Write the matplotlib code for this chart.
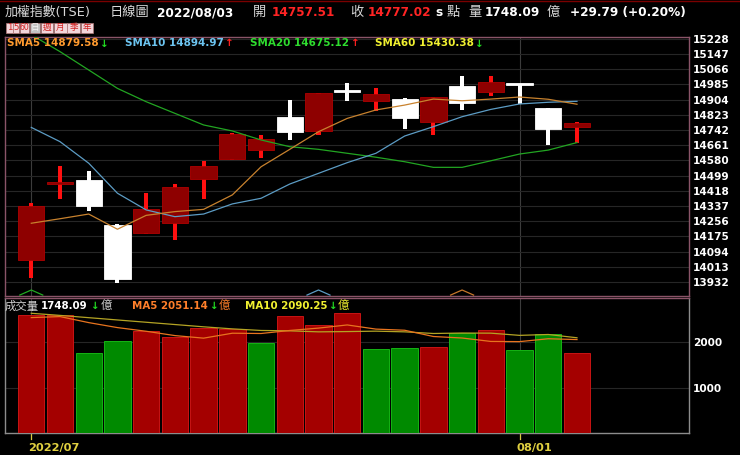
import matplotlib
matplotlib.use("Agg")
import matplotlib.pyplot as plt
from matplotlib.patches import Rectangle

plt.rcParams['font.family'] = ['DejaVu Sans', 'Noto Sans CJK TC']

# ---------------- data ----------------
opens = [14049, 14455, 14476, 14236, 14192, 14248, 14481, 14586, 14635, 14810,
         14738, 14950, 14898, 14909, 14786, 14976, 14944, 14984, 14857, 14757.51]
highs = [14355, 14550, 14524, 14240, 14405, 14453, 14578, 14725, 14717, 14902,
         14940, 14991, 14966, 14912, 14918, 15030, 15031, 14990, 14860, 14785]
lows = [13952, 14373, 14310, 13928, 14190, 14156, 14376, 14583, 14594, 14689,
        14714, 14898, 14845, 14746, 14714, 14849, 14923, 14882, 14662, 14671]
closes = [14337, 14461, 14337, 13946, 14323, 14437, 14550, 14721, 14692, 14731,
          14938, 14944, 14934, 14804, 14916, 14887, 14998, 14981, 14747, 14777.02]

sma5 = [14245, 14269, 14294, 14213, 14287, 14307, 14319, 14396, 14546, 14639,
        14733, 14804, 14849, 14875, 14907, 14898, 14907, 14918, 14906, 14879.58]
sma10 = [14756, 14680, 14565, 14405, 14316, 14280, 14294, 14348, 14378, 14454,
         14511, 14568, 14618, 14710, 14760, 14813, 14852, 14881, 14890, 14894.97]
sma20 = [15250, 15160, 15062, 14964, 14893, 14831, 14769, 14737, 14689, 14653,
         14639, 14618, 14597, 14573, 14543, 14543, 14578, 14614, 14635, 14675.12]

volumes = [2582, 2582, 1751, 2013, 2239, 2107, 2298, 2291, 1985, 2567,
           2370, 2641, 1838, 1860, 1882, 2203, 2269, 1816, 2173, 1748.09]
vol_up = [1, 1, 0, 0, 1, 1, 1, 1, 0, 1, 1, 1, 0, 0, 1, 0, 1, 0, 0, 1]
vol_ma5 = [2532, 2554, 2422, 2313, 2233, 2138, 2082, 2190, 2184, 2250,
           2302, 2371, 2280, 2255, 2118, 2085, 2010, 2006, 2069, 2051.14]
vol_ma10 = [2626, 2580, 2530, 2480, 2430, 2380, 2330, 2285, 2250, 2242,
            2220, 2226, 2235, 2220, 2184, 2194, 2191, 2143, 2162, 2090.25]

price_ticks = [13932, 14013, 14094, 14175, 14256, 14337, 14418, 14499, 14580,
               14661, 14742, 14823, 14904, 14985, 15066, 15147, 15228]
vol_ticks = [1000, 2000]
date_labels = ["2022/07", "08/01"]
date_idx = [0, 17]

caret_idx = [0, 10, 15]
caret_colors = ['#22aa22', '#5c9cc4', '#c8782a']

header_date = "2022/08/03"
open_val, close_val = "14757.51", "14777.02"
vol_val = "1748.09"
change_txt = "+29.79 (+0.20%)"
sma_labels = [("SMA5 14879.58", '#ff9a2e', '↓'), ("SMA10 14894.97", '#6cc4f0', '↑'),
              ("SMA20 14675.12", '#2edc2e', '↑'), ("SMA60 15430.38", '#f0f030', '↓')]
vol_labels = [("MA5 2051.14", '#ff7f2a'), ("MA10 2090.25", '#f0f030')]
buttons = ["1", "5", "60", "日", "週", "月", "季", "年"]

# ---------------- figure ----------------
W, H = 740, 455
fig = plt.figure(figsize=(W / 100, H / 100), dpi=100, facecolor='black')
renderer = fig.canvas.get_renderer()

def fx(px):
    return px / W

def fy(py):
    return 1 - py / H

ax1 = fig.add_axes([fx(5), fy(296), fx(689) - fx(5), fy(37) - fy(296)])
ax2 = fig.add_axes([fx(5), fy(433.3), fx(689) - fx(5), fy(298.3) - fy(433.3)])

n = len(opens)
xs = list(range(n))
XL = (-0.915, 22.9)

for ax in (ax1, ax2):
    ax.set_facecolor('black')
    ax.set_xlim(*XL)
    ax.set_xticks([])
    ax.yaxis.tick_right()
    ax.tick_params(axis='y', length=0, pad=3, labelcolor='white', labelsize=7.6)
    for d in date_idx:
        ax.axvline(d, color='#3c3c3c', lw=0.8, zorder=0)

# price panel
ax1.set_ylim(13857, 15238)
ax1.set_yticks(price_ticks)
ax1.set_yticklabels([str(t) for t in price_ticks], fontweight='bold')
for t in price_ticks:
    ax1.axhline(t, color='#262626', lw=0.8, zorder=0)
for s in ax1.spines.values():
    s.set_color('#8a5468')
    s.set_linewidth(1.0)

unit = (15238 - 13857) / 259.0  # data units per pixel
for i in xs:
    o, h, l, c = opens[i], highs[i], lows[i], closes[i]
    up = c >= o
    wick_col = '#ff1010' if up else 'white'
    body_col = '#8e0000' if up else 'white'
    edge_col = '#b00000' if up else 'white'
    ax1.bar(i, h - l, bottom=l, width=0.14, color=wick_col, zorder=3)
    bh = max(abs(c - o), 2 * unit)
    ax1.bar(i, bh, bottom=min(o, c), width=0.915, color=body_col,
            edgecolor=edge_col, linewidth=0.6, zorder=4)

ax1.plot(xs, sma20, color='#22a522', lw=0.9, zorder=5)
ax1.plot(xs, sma10, color='#5c9cc4', lw=0.9, zorder=5)
ax1.plot(xs, sma5, color='#c8822e', lw=0.9, zorder=5)

for ci, cc in zip(caret_idx, caret_colors):
    ax1.plot([ci - 0.4, ci, ci + 0.4], [13862, 13889, 13862], color=cc, lw=0.9,
             zorder=5, clip_on=False)

# volume panel
ax2.set_ylim(0, 2954)
ax2.set_yticks(vol_ticks)
ax2.set_yticklabels([str(t) for t in vol_ticks], fontweight='bold')
for t in vol_ticks:
    ax2.axhline(t, color='#262626', lw=0.8, zorder=0)
for k, s in ax2.spines.items():
    s.set_color('#8c8c8c')
    s.set_linewidth(1.0)
ax2.spines['top'].set_color('#8a5468')

for i in xs:
    if vol_up[i]:
        fc, ec = '#a40000', '#c81414'
    else:
        fc, ec = '#008a00', '#14b414'
    ax2.bar(i, volumes[i], width=0.92, color=fc, edgecolor=ec, linewidth=0.7, zorder=3)
ax2.plot(xs, vol_ma10, color='#b4a424', lw=0.9, zorder=5)
ax2.plot(xs, vol_ma5, color='#e8741e', lw=0.9, zorder=5)

# x date labels + small ticks
for d, lab in zip(date_idx, date_labels):
    ax2.plot([d, d], [0, -130], color='#d8c840', lw=0.9, clip_on=False)
    ax2.text(d - 0.1, -330, lab, color='#e0d040', fontsize=8.2, fontweight='bold',
             ha='left', va='center', clip_on=False)

# ---------------- header texts ----------------
def T(x, y, s, color, size=9.0, bold=False):
    t = fig.text(fx(x), fy(y), s, color=color, fontsize=size,
                 fontweight='bold' if bold else 'normal', ha='left', va='center')
    return t

def chain(x, y, parts, gap=1.0):
    """parts: list of (text, color, size, bold). Returns end x in px."""
    for s, col, size, bold in parts:
        t = T(x, y, s, col, size, bold)
        bb = t.get_window_extent(renderer=renderer)
        x = bb.x1 + gap
    return x

hy = 12.5
T(5, hy, "加權指數(TSE)", '#d8d8d8', 9.3)
T(110, hy, "日線圖", '#d8d8d8', 9.5)
T(157, hy, header_date, 'white', 8.7, True)
T(253, hy, "開", '#d8d8d8', 9.5)
T(272, hy, open_val, '#ff2424', 8.7, True)
T(350, hy, "收", '#d8d8d8', 9.5)
T(368, hy, close_val, '#ff2424', 8.7, True)
T(435, hy, "s", 'white', 8.7, True)
T(447, hy, "點", '#d8d8d8', 9.5)
T(468, hy, "量", '#d8d8d8', 9.5)
T(485, hy, vol_val, 'white', 8.7, True)
T(547, hy, "億", '#d8d8d8', 9.5)
T(570, hy, change_txt, 'white', 8.7, True)

# buttons
bx = [(6, 12.6), (13.2, 19.4), (20, 29.4), (30, 40), (40.6, 53.4), (54, 66.6), (67.2, 80), (80.6, 93)]
for (x0, x1), lab in zip(bx, buttons):
    sel = lab == "日"
    fc = '#c4c4c4' if sel else '#f2d6da'
    tc = '#f8f8f8' if sel else '#d02020'
    fig.patches.append(Rectangle((fx(x0), fy(32.5)), fx(x1) - fx(x0), fy(22.5) - fy(32.5),
                                 transform=fig.transFigure, facecolor=fc,
                                 edgecolor='#b07878', linewidth=0.5))
    fig.text(fx((x0 + x1) / 2), fy(27.6), lab, color=tc,
             fontsize=5.6 if len(lab) > 1 else 6.2, ha='center', va='center')

# SMA legend row
sy = 43.5
for (lab, col, arr), x0 in zip(sma_labels, [7, 125, 250, 375]):
    acol = '#22dd22' if arr == '↓' else '#ff2020'
    chain(x0, sy, [(lab, col, 7.5, True), (arr, acol, 7.5, True)], gap=1.5)

# volume legend row
vy = 306
chain(5, vy, [("成交量", '#d0d0d0', 8.2, False), (vol_val, 'white', 7.4, True),
              ("↓", '#22dd22', 7.4, True), ("億", '#d0d0d0', 8.2, False)], gap=2)
chain(132, vy, [(vol_labels[0][0], vol_labels[0][1], 7.4, True), ("↓", '#22dd22', 7.4, True),
                ("億", vol_labels[0][1], 8.2, False)], gap=1)
chain(245, vy, [(vol_labels[1][0], vol_labels[1][1], 7.4, True), ("↓", '#22dd22', 7.4, True),
                ("億", vol_labels[1][1], 8.2, False)], gap=1)

# top thin red frame line
fig.add_artist(plt.Line2D([0, 1], [fy(0.6), fy(0.6)], transform=fig.transFigure,
                          color='#7a0000', lw=1.0))

fig.savefig("out.png", dpi=100, facecolor='black')
